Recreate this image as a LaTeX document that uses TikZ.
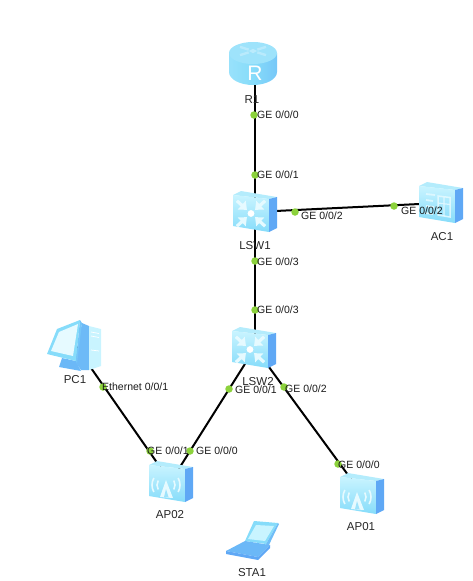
\documentclass[tikz,border=0pt]{standalone}
\usepackage{fontspec}
\setmainfont{Liberation Sans}
\definecolor{sidec}{HTML}{5FA8F5}
\definecolor{frontl}{HTML}{C9F4FF}
\definecolor{frontr}{HTML}{86DCFA}
\definecolor{topc}{HTML}{B4ECFC}
\definecolor{portc}{HTML}{8CD23C}
\definecolor{glyph}{HTML}{E6FAFF}
\tikzset{
  x=1pt,y=-1pt,
  devnode/.style={inner sep=0pt,minimum size=0pt,outer sep=0pt},
  link/.style={line width=2pt,black},
  portdot/.style={circle,fill=portc,inner sep=0pt,minimum size=7.5pt},
  portlabel/.style={anchor=west,inner sep=0pt,font=\fontsize{10.5}{12}\selectfont,text=black!90},
  devlabel/.style={inner sep=0pt,font=\fontsize{11.5}{13}\selectfont,text=black!85},
  box/.pic={
    \fill[topc] (0,4)--(8,0)--(44,6)--(36,8)--cycle;
    \shade[shading angle=-60,top color=frontl,bottom color=frontr] (0,4)--(36,8)--(36,41)--(0,35)--cycle;
    \fill[sidec] (36,8)--(44,6)--(44,37)--(36,41)--cycle;
  },
  switchicon/.pic={
    \pic {box};
    \fill[white] (18,22.5) circle (3.4);
    \foreach \a in {42,138,222,318}{
      \begin{scope}[shift={(18,22.5)},rotate=\a]
        \draw[glyph,line width=3.2pt] (10,0)--(19,0);
        \fill[glyph] (5.5,0)--(12.5,-6)--(12.5,6)--cycle;
      \end{scope}}
  },
  apicon/.pic={
    \pic {box};
    \fill[glyph] (17,19)--(24,37)--(11,36)--cycle;
    \fill[frontr!80!white] (17,28)--(19.5,36)--(15,36)--cycle;
    \foreach \r in {9,14}{
      \draw[glyph,line width=1.6pt] ([shift={(150:\r)}]17,24) arc[start angle=150,end angle=210,radius=\r];
      \draw[glyph,line width=1.6pt] ([shift={(30:\r)}]17,24) arc[start angle=30,end angle=-30,radius=\r];
    }
  },
  acicon/.pic={
    \pic {box};
    \draw[glyph,line width=1.8pt,opacity=.8] (7,12)--(16,13) (7,18)--(14,19) (7,24)--(15,25)
      (6,31)--(14,32);
    \draw[glyph,line width=1.5pt,opacity=.85] (19,14)--(31,15.5)--(31,35)--(19,33)--cycle;
    \draw[glyph,line width=1.2pt,opacity=.85] (19,21)--(31,22.5) (25,15)--(25,34);
  },
  routericon/.pic={
    \shade[left color=frontr!85!white,right color=frontr!60!sidec,middle color=frontr] (0,11) -- (0,30) arc[start angle=180,end angle=0,x radius=24,y radius=13] -- (48,11) -- cycle;
    \fill[frontr!80!white] (24,11) ellipse[x radius=24,y radius=11];
    \foreach \a in {30,150,210,330}
      \draw[white,line width=2.4pt,opacity=.28,shift={(24,9)},yscale=.55] (\a:5)--(\a:15);
    \fill[white,opacity=.3,shift={(24,9)},yscale=.55] (0,-4)--(4,0)--(0,4)--(-4,0)--cycle;
  },
  pcicon/.pic={
    \fill[sidec!65!frontr] (34,3)--(41,6)--(41,50)--(33,50)--(27,41)--cycle;
    \fill[frontl] (41,6)--(53,9)--(53,46)--(41,50)--cycle;
    \draw[white,line width=.7pt] (43,12)--(51,13.5) (43,16)--(51,17.5) (43,30)--(51,31);
    \fill[sidec!70!frontr] (14,38)--(28,41)--(33,51)--(11,47)--cycle;
    \fill[frontr] (9,9)--(32,0)--(28,41)--(-1,34)--cycle;
    \fill[glyph] (11,12)--(30,4)--(25,36)--(3,31)--cycle;
    \fill[sidec!45!frontr] (32,0)--(34,3)--(29,44)--(28,41)--cycle;
  },
  laptopicon/.pic={
    \fill[frontr] (27,-1)--(51,1)--(39,22)--(18,19)--cycle;
    \fill[frontl] (29,3)--(47,4)--(38,19)--(21,17)--cycle;
    \fill[sidec!60!frontr] (51,1)--(52,2)--(41,25)--(39,22)--cycle;
    \fill[sidec!70!frontr] (-1,29)--(18,19)--(43,23)--(31,35)--cycle;
    \fill[sidec] (-1,29)--(31,35)--(43,23)--(43,26)--(31,38)--(-1,32)--cycle;
  },
}
\begin{document}
\begin{tikzpicture}
\useasboundingbox (0,0) rectangle (472,581);
\node[devnode] (r1) at (255,65) {};
\node[devnode] (lsw1) at (255,212) {};
\node[devnode] (lsw2) at (255,348) {};
\node[devnode] (ac1) at (440,203) {};
\node[devnode] (ap02) at (170.5,482) {};
\node[devnode] (ap01) at (362,494) {};
\node[devnode] (pc1) at (75,345) {};
\node[devnode] (sta1) at (253,541) {};
\draw[link] (r1.center)--(lsw1.center);
\draw[link] (lsw1.center)--(lsw2.center);
\draw[link] (lsw1.center)--(ac1.center);
\draw[link] (lsw2.center)--(ap02.center);
\draw[link] (lsw2.center)--(ap01.center);
\draw[link] (pc1.center)--(ap02.center);
\pic at (229,42) {routericon};
\pic at (233,191) {switchicon};
\pic at (232,327) {switchicon};
\pic at (419,182) {acicon};
\pic at (149,461) {apicon};
\pic at (340,473) {apicon};
\pic at (48,320) {pcicon};
\pic at (227,522) {laptopicon};
\node[inner sep=0pt,text=white,font=\fontsize{21}{21}\selectfont] (rglyph) at (255,73) {R};
\foreach \n/\x/\y in {d1/254/115,d2/255/175,d3/295/212,d4/394/206,d5/255/261,d6/255/310,d7/103/387,d8/229/389,d9/284/387,d10/150/451,d11/190/451,d12/338/464}
  \node[portdot] (\n) at (\x,\y) {};
\foreach \n/\x/\y/\t in {l1/257/115/GE 0\slash 0\slash 0,l2/257/175/GE 0\slash 0\slash 1,l3/301/216/GE 0\slash 0\slash 2,l4/401/211/GE 0\slash 0\slash 2,l5/257/262/GE 0\slash 0\slash 3,l6/257/310/GE 0\slash 0\slash 3,l7/102/387/Ethernet 0\slash 0\slash 1,l8/235/390/GE 0\slash 0\slash 1,l9/285/389/GE 0\slash 0\slash 2,l10/147/451/GE 0\slash 0\slash 1,l11/196/451/GE 0\slash 0\slash 0,l12/338/465/GE 0\slash 0\slash 0}
  \node[portlabel] (\n) at (\x,\y) {\t};
\foreach \n/\x/\y/\t in {nr1/252/100/R1,nlsw1/255/246/LSW1,nlsw2/258/382/LSW2,nac1/442/237/AC1,npc1/75/380/PC1,nap02/170/515/AP02,nap01/361/527/AP01,nsta1/252/573/STA1}
  \node[devlabel] (\n) at (\x,\y) {\t};
\end{tikzpicture}
\end{document}
